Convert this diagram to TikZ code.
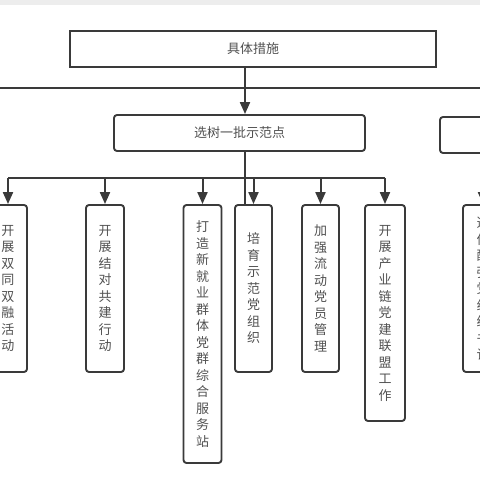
\documentclass[tikz,border=0pt]{standalone}
\usepackage{fontspec}
\setmainfont{Noto Sans CJK SC}
\usetikzlibrary{arrows.meta,calc}
\definecolor{ln}{HTML}{3A3A3A}
\definecolor{tx}{HTML}{505050}
\begin{document}
\begin{tikzpicture}[x=1pt,y=-1pt,
  box/.style={draw=ln,line width=1.9pt,inner sep=0pt,text=tx,font=\fontsize{13}{16.5}\selectfont,align=center},
  vbox/.style={box,rounded corners=3pt,minimum width=38pt,minimum height=#1},
  arr/.style={draw=ln,line width=2pt,-{Triangle[length=12pt,width=10pt]}},
  ln/.style={draw=ln,line width=2pt}]
\useasboundingbox (0,0) rectangle (480,480);
\clip (0,0) rectangle (480,480);
\fill[gray!14] (0,0) rectangle (480,5);
% top
\node[box,minimum width=366pt,minimum height=36pt] (top) at (253,49) {具体措施};
\node[box,rounded corners=3pt,minimum width=251pt,minimum height=36pt] (sel) at (239.5,133) {选树一批示范点};
\node[box,rounded corners=3pt,minimum width=200pt,minimum height=36pt] (rt) at (540,135) {};
\coordinate (L) at (-5,88);
\coordinate (R) at (485,88);
\coordinate (sp) at (245,178);
\draw[ln] (L) -- (R);
% boxes
\node[vbox=167pt] (b1) at (8,288.5) {开\\展\\双\\同\\双\\融\\活\\动};
\node[vbox=167pt] (b2) at (105,288.5) {开\\展\\结\\对\\共\\建\\行\\动};
\node[vbox=258pt] (b3) at (202.5,334) {打\\造\\新\\就\\业\\群\\体\\党\\群\\综\\合\\服\\务\\站};
\node[vbox=167pt,minimum width=37pt] (b4) at (253.5,288.5) {培\\育\\示\\范\\党\\组\\织};
\node[vbox=167pt,minimum width=37pt] (b5) at (320.5,288.5) {加\\强\\流\\动\\党\\员\\管\\理};
\node[vbox=216pt,minimum width=40pt] (b6) at (385,313) {开\\展\\产\\业\\链\\党\\建\\联\\盟\\工\\作};
\node[vbox=167pt,minimum width=40pt] (b7) at (483,288.5) {选\\优\\配\\强\\党\\组\\织\\书\\记};
% connectors
\draw[arr] (top.south -| sp) -- (sel.north -| sp);
\draw[ln] (sel.south -| sp) -- (b4.north -| sp);
\draw[ln] (b1.north |- sp) -- (b6.north |- sp);
\foreach \b in {b1,b2,b3,b4,b5,b6,b7}
  \draw[arr] (\b.north |- sp) -- (\b.north);
\end{tikzpicture}
\end{document}
